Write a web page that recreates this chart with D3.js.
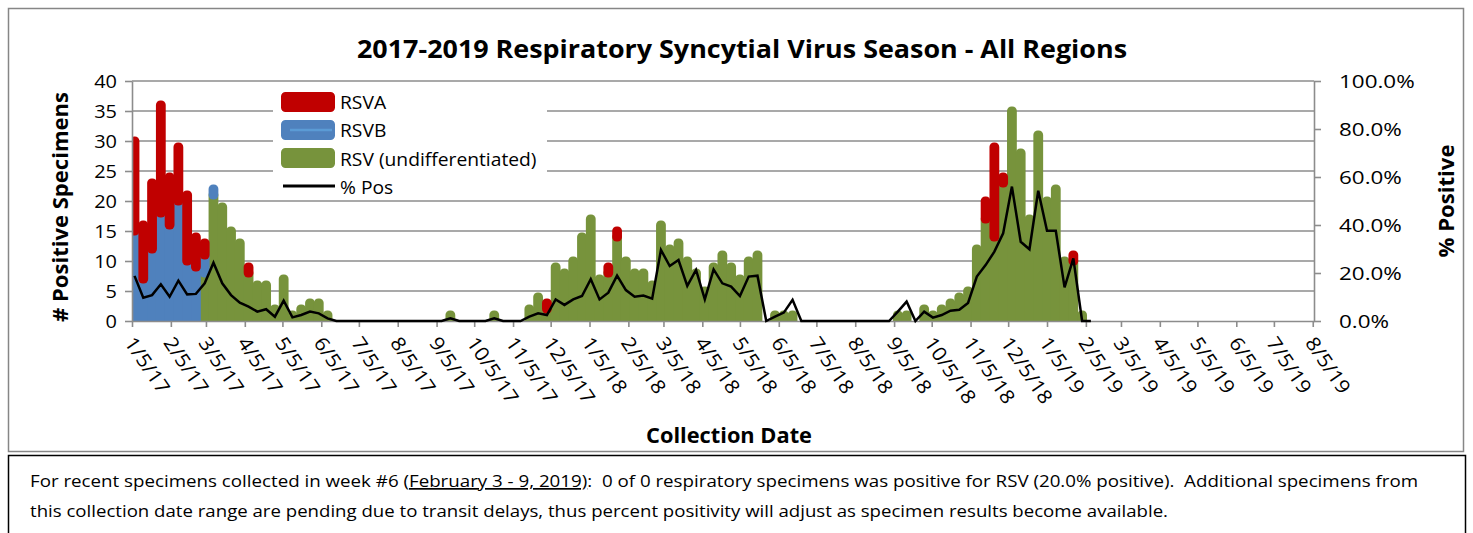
<!DOCTYPE html>
<html>
<head>
<meta charset="utf-8">
<script src="https://cdn.jsdelivr.net/npm/d3@7"></script>
<style>
body { margin: 0; background: #fff; }
svg { display: block; font-family: "Open Sans", sans-serif; }
</style>
</head>
<body>
<svg id="chart" width="1473" height="533"></svg>
<script>
// weekly counts, weeks end on Saturday, first week ends 1/7/17
var firstWeek = new Date(2017, 0, 7);
var numWeeks = 110;

var rsva = [
	15, 9, 11, 18, 8, 9, 11, 5, 2, 0,
	0, 0, 0, 1, 0, 0, 0, 0, 0, 0,
	0, 0, 0, 0, 0, 0, 0, 0, 0, 0,
	0, 0, 0, 0, 0, 0, 0, 0, 0, 0,
	0, 0, 0, 0, 0, 0, 0, 1, 0, 0,
	0, 0, 0, 0, 1, 1, 0, 0, 0, 0,
	0, 0, 0, 0, 0, 0, 0, 0, 0, 0,
	0, 0, 0, 0, 0, 0, 0, 0, 0, 0,
	0, 0, 0, 0, 0, 0, 0, 0, 0, 0,
	0, 0, 0, 0, 0, 0, 0, 3, 15, 1,
	0, 0, 0, 0, 0, 0, 0, 1, 0, 0
];
var rsvb = [
	15, 7, 12, 18, 16, 20, 10, 9, 3, 1,
	0, 0, 0, 0, 0, 0, 0, 0, 0, 0,
	0, 0, 0, 0, 0, 0, 0, 0, 0, 0,
	0, 0, 0, 0, 0, 0, 0, 0, 0, 0,
	0, 0, 0, 0, 0, 0, 0, 0, 0, 0,
	0, 0, 0, 0, 0, 0, 0, 0, 0, 0,
	0, 0, 0, 0, 0, 0, 0, 0, 0, 0,
	0, 0, 0, 0, 0, 0, 0, 0, 0, 0,
	0, 0, 0, 0, 0, 0, 0, 0, 0, 0,
	0, 0, 0, 0, 0, 0, 0, 0, 0, 0,
	0, 0, 0, 0, 0, 0, 0, 0, 0, 0
];
var rsvUndiff = [
	0, 0, 0, 0, 0, 0, 0, 0, 8, 21,
	19, 15, 13, 8, 6, 6, 2, 7, 1, 2,
	3, 3, 1, 0, 0, 0, 0, 0, 0, 0,
	0, 0, 0, 0, 0, 0, 1, 0, 0, 0,
	0, 1, 0, 0, 0, 2, 4, 2, 9, 8,
	10, 14, 17, 7, 8, 14, 10, 8, 8, 6,
	16, 12, 13, 10, 8, 5, 9, 11, 9, 7,
	10, 11, 0, 1, 1, 1, 0, 0, 0, 0,
	0, 0, 0, 0, 0, 0, 0, 1, 1, 0,
	2, 1, 2, 3, 4, 5, 12, 17, 14, 23,
	35, 28, 17, 31, 20, 22, 10, 10, 1, 0
];
// percent positive
var pctPos = [
	18.8, 9.7, 10.8, 15.3, 10.1, 16.8, 11.1, 11.3, 15.7, 24.3,
	15.7, 10.8, 7.6, 6.0, 3.9, 4.9, 1.8, 8.5, 1.5, 2.5,
	3.9, 3.2, 1.1, 0, 0, 0, 0, 0, 0, 0,
	0, 0, 0, 0, 0, 0, 1.1, 0, 0, 0,
	0, 1.1, 0, 0, 0, 1.8, 3.2, 2.5, 9.0, 6.7,
	9.0, 10.4, 17.4, 9.0, 11.8, 18.9, 12.9, 10.1, 10.6, 9.3,
	29.6, 22.9, 25.4, 14.6, 21.3, 9.0, 21.5, 15.7, 14.3, 10.4,
	18.5, 18.9, 0, 1.8, 3.5, 8.8, 0, 0, 0, 0,
	0, 0, 0, 0, 0, 0, 0, 3.9, 8.1, 0,
	3.9, 1.4, 2.5, 4.3, 4.7, 7.5, 18.5, 23.3, 28.9, 36.5,
	56.0, 33.0, 29.9, 54.3, 37.6, 37.6, 14.0, 26.1, 0, 0
];

var countTicks = [0, 5, 10, 15, 20, 25, 30, 35, 40];
var pctTicks = [0, 0.2, 0.4, 0.6, 0.8, 1.0];
var seriesNames = ["RSVA", "RSVB", "RSV (undifferentiated)", "% Pos"];
var colors = { a: "#C00000", b: "#4F81BD", u: "#77933C" };

var titleText = "2017-2019 Respiratory Syncytial Virus Season - All Regions";
var footer1a = "For recent specimens collected in week #6 (";
var footer1b = "February 3 - 9, 2019)";
var footer1c = ":  0 of 0 respiratory specimens was positive for RSV (20.0% positive).  Additional specimens from";
var footer2 = "this collection date range are pending due to transit delays, thus percent positivity will adjust as specimen results become available.";

var gridColor = "#8c8c8c";
var svg = d3.select("#chart");

var x = d3.scaleTime()
	.domain([new Date(2017, 0, 5), new Date(2019, 7, 6)])
	.range([132, 1314]);
var y = d3.scaleLinear().domain([0, 40]).range([321, 81]);
var yPct = d3.scaleLinear().domain([0, 1]).range([321, 81]);

var table = [];
for (var i = 0; i < numWeeks; i++) {
	table.push({
		date: d3.timeDay.offset(firstWeek, 7 * i),
		u: rsvUndiff[i], b: rsvb[i], a: rsva[i], pct: pctPos[i] / 100
	});
}

// widen text a bit, the source font runs wider than Open Sans
var widen = function(sel, k){
	sel.each(function(){
		var len = this.getComputedTextLength();
		d3.select(this).attr("textLength", len * k).attr("lengthAdjust", "spacingAndGlyphs");
	});
};
var fitText = function(sel, len){
	sel.attr("textLength", len).attr("lengthAdjust", "spacingAndGlyphs");
};

// frame and footer box
svg.append("rect").attr("x", 8.5).attr("y", 8.5).attr("width", 1455).attr("height", 443)
	.attr("fill", "none").attr("stroke", "#868686").attr("stroke-width", 1.5);
svg.append("rect").attr("x", 8.5).attr("y", 455.5).attr("width", 1457).attr("height", 100)
	.attr("fill", "none").attr("stroke", "#000").attr("stroke-width", 1.5);

// gridlines
svg.append("g").selectAll("line").data(countTicks.slice(1)).join("line")
	.attr("x1", 132).attr("x2", 1314)
	.attr("y1", function(d){ return y(d); }).attr("y2", function(d){ return y(d); })
	.attr("stroke", gridColor).attr("stroke-width", 1.6);

// bars
svg.append("clipPath").attr("id", "plotClip").append("rect")
	.attr("x", 132).attr("y", 0).attr("width", 1182).attr("height", 321);

var stack = d3.stack().keys(["u", "b", "a"]);
var layers = stack(table);
var barW = 0.8;
var barG = svg.append("g").attr("clip-path", "url(#plotClip)");
layers.forEach(function(layer){
	barG.append("g").selectAll("rect")
		.data(layer.filter(function(d){ return d[1] - d[0] > 0; }))
		.join("rect")
		.attr("x", function(d){ return x(d.data.date) - barW / 2; })
		.attr("y", function(d){ return y(d[1]); })
		.attr("width", barW)
		.attr("height", function(d){ return y(d[0]) - y(d[1]); })
		.attr("fill", colors[layer.key])
		.attr("stroke", colors[layer.key])
		.attr("stroke-width", 9)
		.attr("stroke-linejoin", "round");
});

// axes
var styleAxis = function(g){
	g.select(".domain").attr("stroke", gridColor).attr("stroke-width", 1.6);
	g.selectAll(".tick line").attr("stroke", gridColor).attr("stroke-width", 1.6);
	g.selectAll("text").attr("fill", "#000").style("font-family", "'Open Sans', sans-serif");
};

svg.append("g").attr("transform", "translate(132,0)")
	.call(d3.axisLeft(y).tickValues(countTicks).tickSize(7).tickPadding(8).tickSizeOuter(0))
	.call(styleAxis)
	.selectAll("text").style("font-size", "19px")
	.call(widen, 1.05);

svg.append("g").attr("transform", "translate(1314,0)")
	.call(d3.axisRight(yPct).tickValues(pctTicks).tickFormat(d3.format(".1%")).tickSize(7).tickPadding(18).tickSizeOuter(0))
	.call(styleAxis)
	.selectAll("text").style("font-size", "19px")
	.call(widen, 1.18);

var monthTicks = d3.timeMonth.range(new Date(2017, 0, 1), new Date(2019, 8, 1))
	.map(function(d){ return new Date(d.getFullYear(), d.getMonth(), 5); });
svg.append("g").attr("transform", "translate(0,321)")
	.call(d3.axisBottom(x).tickValues(monthTicks).tickFormat(d3.timeFormat("%-m/%-d/%y")).tickSize(6).tickSizeOuter(0))
	.call(styleAxis)
	.selectAll("text")
	.style("font-size", "19.5px")
	.style("text-anchor", "start")
	.attr("x", 0).attr("y", 0).attr("dy", "0.35em")
	.attr("transform", "translate(-3,18) rotate(56)")
	.call(widen, 1.08);

// % positive line
var pctLine = d3.line()
	.x(function(d){ return x(d.date); })
	.y(function(d){ return yPct(d.pct); });
svg.append("path").datum(table)
	.attr("d", pctLine)
	.attr("fill", "none").attr("stroke", "#000").attr("stroke-width", 2.5);

// legend
var legend = svg.append("g");
legend.append("rect").attr("x", 273).attr("y", 84).attr("width", 274).attr("height", 115).attr("fill", "#fff");
var swatchColors = [colors.a, colors.b, colors.u];
swatchColors.forEach(function(c, k){
	legend.append("rect")
		.attr("x", 285.5).attr("y", 96.5 + k * 28).attr("width", 45).attr("height", 11)
		.attr("fill", c).attr("stroke", c).attr("stroke-width", 9).attr("stroke-linejoin", "round");
});
legend.append("line").attr("x1", 290).attr("x2", 332).attr("y1", 130).attr("y2", 130)
	.attr("stroke", "#5b9bd5").attr("stroke-width", 2.5);
legend.append("line").attr("x1", 283).attr("x2", 335).attr("y1", 186).attr("y2", 186)
	.attr("stroke", "#000").attr("stroke-width", 3);
legend.selectAll("text.lab").data(seriesNames).join("text")
	.attr("class", "lab")
	.attr("x", 340)
	.attr("y", function(d, k){ return 108.5 + k * 28.5; })
	.style("font-size", "18.5px")
	.text(function(d){ return d; })
	.call(widen, 1.04);

// titles
svg.append("text").attr("x", 742).attr("y", 58).attr("text-anchor", "middle")
	.style("font-size", "25.5px").style("font-weight", "bold")
	.text(titleText).call(fitText, 770);
svg.append("text").attr("x", 729).attr("y", 443).attr("text-anchor", "middle")
	.style("font-size", "21px").style("font-weight", "bold")
	.text("Collection Date").call(fitText, 166);
svg.append("text").attr("transform", "translate(68,207) rotate(-90)").attr("text-anchor", "middle")
	.style("font-size", "21px").style("font-weight", "bold")
	.text("# Positive Specimens").call(fitText, 230);
svg.append("text").attr("transform", "translate(1454,201) rotate(-90)").attr("text-anchor", "middle")
	.style("font-size", "21px").style("font-weight", "bold")
	.text("% Positive").call(fitText, 113);

// footer note
var f1 = svg.append("text").attr("x", 30).attr("y", 487).style("font-size", "17px")
	.style("white-space", "pre");
f1.append("tspan").text(footer1a);
f1.append("tspan").style("text-decoration", "underline").text(footer1b);
f1.append("tspan").text(footer1c);
f1.call(fitText, 1388);
svg.append("text").attr("x", 30).attr("y", 517).style("font-size", "17px")
	.text(footer2).call(fitText, 1138);
</script>
</body>
</html>
